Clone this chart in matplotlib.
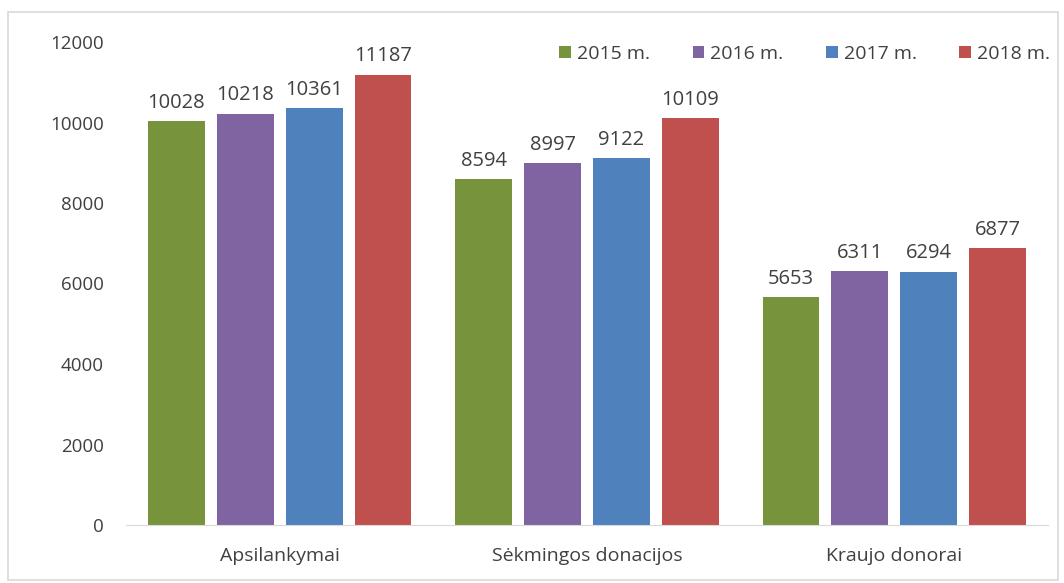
import matplotlib
matplotlib.use("Agg")
import matplotlib.pyplot as plt
import numpy as np
from matplotlib.patches import Rectangle

categories = ["Apsilankymai", "Sėkmingos donacijos", "Kraujo donorai"]
series_names = ["2015 m.", "2016 m.", "2017 m.", "2018 m."]
v2015 = [10028, 8594, 5653]
v2016 = [10218, 8997, 6311]
v2017 = [10361, 9122, 6294]
v2018 = [11187, 10109, 6877]
values = [v2015, v2016, v2017, v2018]
colors = ["#77933C", "#8064A2", "#4F81BD", "#C0504D"]
yticks = [0, 2000, 4000, 6000, 8000, 10000, 12000]

plt.rcParams['font.family'] = ['Open Sans', 'DejaVu Sans']
fig = plt.figure(figsize=(10.64, 5.83), dpi=100)
fig.patches.append(Rectangle((8/1064, 3/583), 1050/1064, 568/583, transform=fig.transFigure,
                             fill=False, edgecolor="#D9D9D9", linewidth=1.2))
ax = fig.add_axes([126/1064, 1 - 525/583, 922/1064, (525 - 42)/583])

x = np.arange(len(categories))
bw = 0.185
step = 0.224
for i, (name, vals, c) in enumerate(zip(series_names, values, colors)):
    pos = x + (i - 1.5) * step
    bars = ax.bar(pos, vals, width=bw, color=c, label=name, zorder=2)
    for b, v in zip(bars, vals):
        ax.annotate(str(v), (b.get_x() + b.get_width() / 2, v), xytext=(0, 6),
                    textcoords="offset points", ha="center", va="bottom",
                    fontsize=14.5, color="#404040")

ax.set_xlim(-0.5, 2.5)
ax.set_ylim(0, 12000)
ax.set_yticks(yticks)
ax.set_yticklabels([str(t) for t in yticks], fontsize=13.5, color="#404040")
ax.set_xticks(x)
ax.set_xticklabels(categories, fontsize=14, color="#404040")
for s in ["top", "right", "left"]:
    ax.spines[s].set_visible(False)
ax.spines["bottom"].set_color("#D9D9D9")
ax.tick_params(axis="both", length=0)
ax.tick_params(axis="y", pad=16)
ax.tick_params(axis="x", pad=16)

leg = ax.legend(loc="upper right", ncol=4, frameon=False, fontsize=14,
                handlelength=0.6, handleheight=0.6, handletextpad=0.3, columnspacing=2.2,
                bbox_to_anchor=(1.021, 1.03), labelcolor="#404040")

fig.savefig("out.png", dpi=100)
